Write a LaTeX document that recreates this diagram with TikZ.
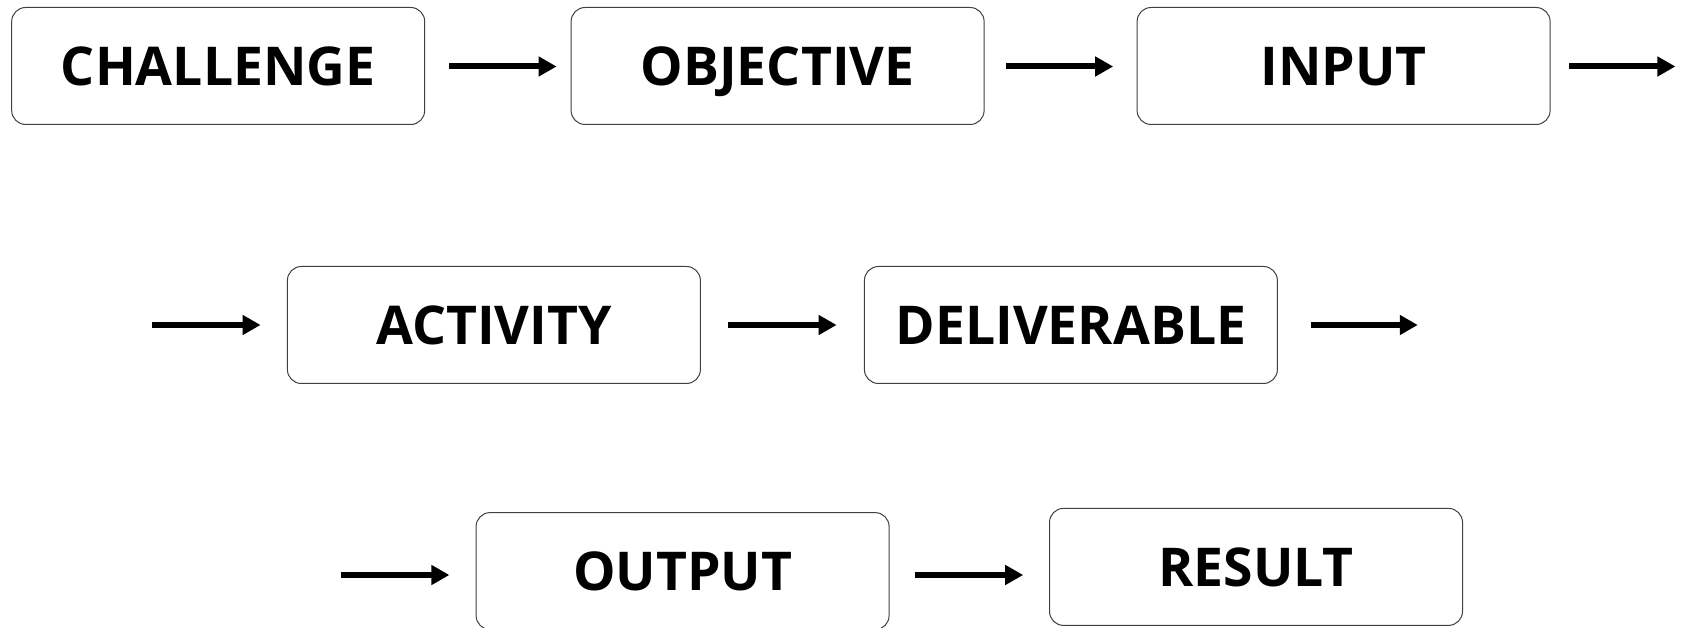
\documentclass[tikz,border=0pt]{standalone}
\usepackage{fontspec}
\setmainfont{Open Sans}
\usetikzlibrary{arrows.meta}
\tikzset{
  stagebox/.style={draw=black!75, line width=1pt, rounded corners=14pt, fill=white,
    minimum width=413pt, minimum height=117pt, inner sep=0pt,
    text height=38.6pt, text depth=0pt,
    font=\fontsize{53.5}{60}\selectfont\bfseries},
  flowarrow/.style={line width=6pt, -{Triangle[length=18pt,width=19pt]}}
}
\begin{document}
\begin{tikzpicture}[x=1pt,y=1pt]
\useasboundingbox (0,0) rectangle (1682,627);
% row 1
\node[stagebox] (challenge) at (218.2,561) {CHALLENGE};
\node[stagebox] (objective) at (777.6,561) {OBJECTIVE};
\node[stagebox] (input) at (1343.6,561) {INPUT};
% row 2
\node[stagebox] (activity) at (493.9,302) {ACTIVITY};
\node[stagebox] (deliverable) at (1070.9,302) {DELIVERABLE};
% row 3
\node[stagebox] (output) at (682.6,55.9) {OUTPUT};
\node[stagebox] (result) at (1256,60.1) {RESULT};
% free arrow ends
\coordinate (a1s) at (449.4,560.5); \coordinate (a1e) at (556.6,560.5);
\coordinate (a2s) at (1006,560.5);  \coordinate (a2e) at (1113.2,560.5);
\coordinate (a3s) at (1569.2,560.5); \coordinate (a3e) at (1675.4,560.5);
\coordinate (b1s) at (152.3,302); \coordinate (b1e) at (260.6,302);
\coordinate (b2s) at (728.2,302); \coordinate (b2e) at (836.6,302);
\coordinate (b3s) at (1310.6,302); \coordinate (b3e) at (1417.8,302);
\coordinate (c1s) at (341,52); \coordinate (c1e) at (449.4,52);
\coordinate (c2s) at (914.8,52); \coordinate (c2e) at (1023.2,52);
\foreach \s/\e in {a1s/a1e,a2s/a2e,a3s/a3e,b1s/b1e,b2s/b2e,b3s/b3e,c1s/c1e,c2s/c2e}
  \draw[flowarrow] (\s) -- (\e);
\end{tikzpicture}
\end{document}
